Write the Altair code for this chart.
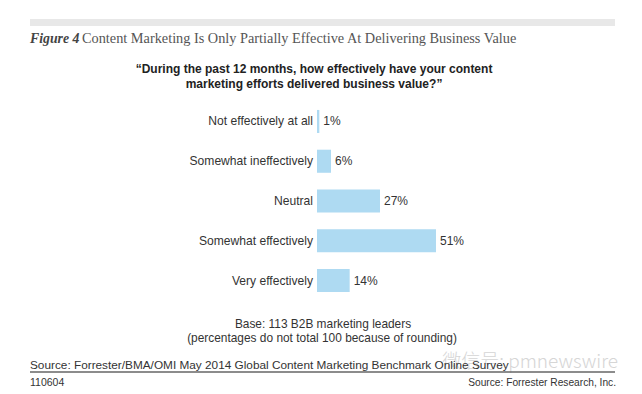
import altair as alt
import pandas as pd

categories = ["Not effectively at all", "Somewhat ineffectively", "Neutral",
              "Somewhat effectively", "Very effectively"]
values = [1, 6, 27, 51, 14]
value_labels = [f"{v}%" for v in values]

fig_label = "Figure 4"
title_text = "Content Marketing Is Only Partially Effective At Delivering Business Value"
question = ["\u201cDuring the past 12 months, how effectively have your content",
            "marketing efforts delivered business value?\u201d"]
base_note = ["Base: 113 B2B marketing leaders",
             "(percentages do not total 100 because of rounding)"]
source_text = "Source: Forrester/BMA/OMI May 2014 Global Content Marketing Benchmark Online Survey"
fig_id = "110604"
credit = "Source: Forrester Research, Inc."
watermark = "\u5fae\u4fe1\u53f7: pmnewswire"

df = pd.DataFrame({"cat": categories, "val": values, "lab": value_labels})

SANS = "Liberation Sans"
SERIF = "Liberation Serif"

xs = alt.Scale(domain=[0, 100], range=[309, 542.3])
ys = alt.Scale(domain=categories, range=[93.6, 292.4], paddingInner=0.42, paddingOuter=0.21)

base = alt.Chart(df)
bars = base.mark_bar(color="#aedaf2").encode(
    x=alt.X("val:Q", scale=xs, axis=None),
    x2=alt.value(309),
    y=alt.Y("cat:N", scale=ys, axis=None, sort=categories),
)
vals = base.mark_text(align="left", baseline="middle", dx=4, font=SANS, fontSize=12, color="#333").encode(
    x=alt.X("val:Q", scale=xs, axis=None),
    y=alt.Y("cat:N", scale=ys, axis=None, sort=categories),
    text="lab:N",
)
cats = base.mark_text(align="right", baseline="middle", font=SANS, fontSize=12.1, color="#333").encode(
    x=alt.value(305),
    y=alt.Y("cat:N", scale=ys, axis=None, sort=categories),
    text="cat:N",
)

one = alt.Data(values=[{}])

def txt(text, x, y, **kw):
    return alt.Chart(one).mark_text(text=text, **kw).encode(x=alt.value(x), y=alt.value(y))

topbar = alt.Chart(one).mark_rect(color="#e8e8e8").encode(
    x=alt.value(22), x2=alt.value(607), y=alt.value(11), y2=alt.value(18))
underline = alt.Chart(one).mark_rule(color="#666", strokeWidth=1.5).encode(
    x=alt.value(22), x2=alt.value(607), y=alt.value(364))

layers = [
    topbar,
    txt(fig_label, 22, 35, align="left", baseline="alphabetic", font=SERIF, fontSize=13.8,
        fontWeight="bold", fontStyle="italic", color="#444"),
    txt(title_text, 74, 35, align="left", baseline="alphabetic", font=SERIF, fontSize=14.3, color="#555"),
    txt(question[0], 306, 61, align="center", baseline="middle", font=SANS, fontSize=12,
        fontWeight="bold", color="#222"),
    txt(question[1], 306, 76, align="center", baseline="middle", font=SANS, fontSize=12,
        fontWeight="bold", color="#222"),
    bars, vals, cats,
    txt(base_note[0], 315, 316, align="center", baseline="middle", font=SANS, fontSize=11.9, color="#333"),
    txt(base_note[1], 314, 330, align="center", baseline="middle", font=SANS, fontSize=11.9, color="#333"),
    txt(watermark, 610, 354, align="right", baseline="middle", font="Noto Sans CJK SC", fontSize=19,
        fontWeight=300, color="#cccccc", opacity=0.8),
    txt(source_text, 22, 357, align="left", baseline="middle", font=SANS, fontSize=11.8, color="#333"),
    underline,
    txt(fig_id, 22, 375, align="left", baseline="middle", font=SANS, fontSize=10.5, color="#333"),
    txt(credit, 608, 375, align="right", baseline="middle", font=SANS, fontSize=10.2, color="#333"),
]

chart = alt.layer(*layers).properties(
    width=626, height=384, autosize=alt.AutoSizeParams(type="none"), padding=0
).configure(background="white", view=alt.ViewConfig(stroke=None))

chart.save("out.html", embed_options={"renderer": "svg", "actions": False})
